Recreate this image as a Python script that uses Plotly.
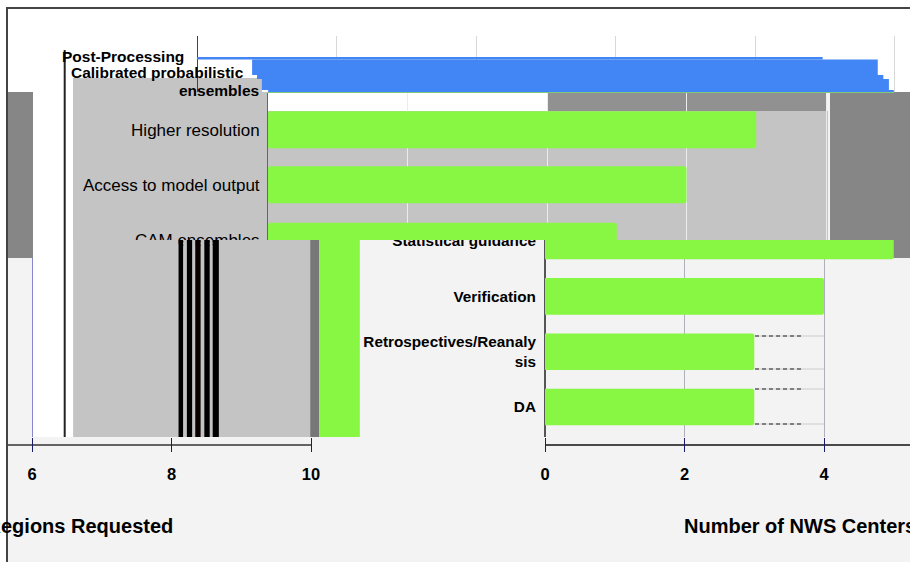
import plotly.graph_objects as go

# ---------- data ----------
lower_rows = ["DA", "Retrospectives/Reanaly<br>sis", "Verification", "Statistical guidance"]
lower_counts = [3, 3, 4, 5]
upper_rows = ["CAM ensembles", "Access to model output", "Higher resolution"]
upper_counts = [1, 2, 3]
top_starts = [1.02, 0.93, 0.86, 0.79, 0.0]
top_ends = [9.99, 9.92, 9.84, 9.76, 8.97]
left_starts = [6.59, 8.10, 8.17, 8.22, 8.30, 8.34, 8.42, 8.47, 8.55, 8.59, 8.68, 9.99, 10.115]
left_ends = [8.10, 8.17, 8.22, 8.30, 8.34, 8.42, 8.47, 8.55, 8.59, 8.68, 10.0, 10.115, 10.70]
left_colors = ["#c4c4c4", "#000000", "#c4c4c4", "#000000", "#c4c4c4", "#0a0000", "#c4c4c4",
               "#000000", "#c4c4c4", "#000000", "#c4c4c4", "#777777", "#87f743"]

W, H = 910, 562
GREEN, BLUE = "#87f743", "#4285f4"
FONT = "Liberation Sans"
fx = lambda x: x / W
fy = lambda y: 1 - y / H

fig = go.Figure()

# lower-right panel
fig.add_bar(y=lower_rows, x=lower_counts, orientation="h", width=0.66,
            marker=dict(color=GREEN, line_width=0, cornerradius=2), xaxis="x2", yaxis="y2")
# upper panel: bars run from the axis start
fig.add_bar(y=upper_rows, x=[v + 4 for v in upper_counts], base=-4, orientation="h", width=[0.618, 0.673, 0.673],
            marker=dict(color=GREEN, line_width=0, cornerradius=2), xaxis="x3", yaxis="y3")
# lower-left panel
fig.add_bar(y=["band"] * len(left_starts), x=[e - s for s, e in zip(left_starts, left_ends)],
            base=left_starts, orientation="h", width=1,
            marker=dict(color=left_colors, line_width=0), xaxis="x4", yaxis="y4")
# top panel
fig.add_bar(y=[1, 7.5, 15, 24.75, 33.75], x=[e - s for s, e in zip(top_starts, top_ends)],
            base=top_starts, orientation="h", width=[2, 11, 4, 15.5, 2.5],
            marker=dict(color=BLUE, line_width=0), xaxis="x", yaxis="y")

U = 69.75
fig.update_layout(
    template="none",
    width=W, height=H, autosize=False, showlegend=False, barmode="overlay",
    margin=dict(l=0, r=0, t=0, b=0, pad=0),
    paper_bgcolor="#f3f3f3", plot_bgcolor="rgba(0,0,0,0)",
    font=dict(family=FONT, color="#000000"),
    xaxis2=dict(domain=[fx(545), 1], anchor="y2", automargin=False, range=[0, (910 - 545) / U], tickmode="array", tickvals=[0, 2, 4],
                ticks="outside", ticklen=14, tickcolor="#1a1a6a", tickwidth=1, ticklabelstandoff=8,
                tickfont=dict(size=16.5, weight="bold"), showgrid=True, gridcolor="#b0b0b8",
                zeroline=True, zerolinecolor="#555555", zerolinewidth=1.5),
    yaxis2=dict(domain=[fy(437), fy(240)], anchor="x2", automargin=False, range=[-0.54, 3.018], type="category", ticks="outside",
                ticklen=5, tickcolor="rgba(0,0,0,0)", showgrid=False, zeroline=False,
                tickfont=dict(size=15.3, weight="bold")),
    xaxis3=dict(domain=[fx(268), 1], anchor="y3", automargin=False, range=[-4, -4 + (910 - 268) / U], dtick=2, tick0=0, showticklabels=False,
                ticks="", showgrid=True, gridcolor="#ececf0", zeroline=True, zerolinecolor="#ececf0",
                zerolinewidth=1),
    yaxis3=dict(domain=[fy(240), fy(93)], anchor="x3", automargin=False, range=[-0.005, 2.668], type="category", ticks="outside",
                ticklen=4, tickcolor="rgba(0,0,0,0)", showgrid=False, zeroline=False,
                showline=True, linecolor="#666666", linewidth=1, tickfont=dict(size=17)),
    xaxis4=dict(domain=[fx(8), fx(360)], anchor="y4", automargin=False, range=[6 - 24 / U, 10 + 49 / U], tickmode="array", tickvals=[6, 8, 10],
                ticks="outside", ticklen=14, tickcolor="#1a1a6a", tickwidth=1, ticklabelstandoff=8,
                tickfont=dict(size=16.5, weight="bold"), showgrid=False, zeroline=False),
    yaxis4=dict(domain=[fy(437), fy(240)], anchor="x4", automargin=False, type="category", visible=False),
    xaxis=dict(domain=[fx(197), 1], anchor="y", automargin=False, range=[0, (910 - 197) / U], dtick=2, tick0=0, showticklabels=False,
               ticks="", showgrid=True, gridcolor="#d8d8d8", zeroline=True, zerolinecolor="#444444",
               zerolinewidth=1),
    yaxis=dict(domain=[fy(92), fy(36)], anchor="x", automargin=False, range=[0, 56], visible=False),
)


def rect(x0, y0, x1, y1, color, layer="below"):
    fig.add_shape(type="rect", xref="paper", yref="paper", x0=fx(x0), x1=fx(x1), y0=fy(y0), y1=fy(y1),
                  fillcolor=color, line_width=0, layer=layer)


def line(x0, y0, x1, y1, color, width=1, dash="solid", layer="below"):
    fig.add_shape(type="line", xref="paper", yref="paper", x0=fx(x0), x1=fx(x1), y0=fy(y0), y1=fy(y1),
                  line=dict(color=color, width=width, dash=dash), layer=layer)


rect(0, 0, W, 92, "#ffffff")
rect(0, 0, 7, H, "#ffffff")
rect(33, 92, 73, 437, "#ffffff")
rect(8, 92, 33, 258, "#868686")
rect(830, 92, 910, 258, "#868686")
rect(73, 78, 262, 92, "#c4c4c4")
rect(73, 92, 268, 240, "#c4c4c4")
rect(268, 111, 828, 240, "#c4c4c4")
rect(268, 93, 547, 111, "#ffffff")
rect(547, 93, 827, 111, "#919191")
line(64.7, 50, 64.7, 437, "#222222", 2)
line(32.5, 258, 32.5, 437, "#8888cc", 1)
line(268, 92.5, 894, 92.5, "#7fc97f", 1)
line(8, 445, 311, 445, "#333333", 1.5)
line(545, 445, 910, 445, "#111111", 1.5)
for yy in (336, 369, 389, 424):
    line(755, yy, 824, yy, "#cccccc", 1)
    line(755, yy, 802, yy, "#222222", 1.2, "4px,3px")
line(7, 7, 7, H, "#444444", 2, layer="above")
line(6, 8, W, 8, "#444444", 2, layer="above")

for text, x_right, y_mid in [("Post-Processing", 186, 57), ("Calibrated probabilistic", 246, 73), ("ensembles", 261, 90)]:
    fig.add_annotation(text=text, xref="paper", yref="paper", x=fx(x_right), y=fy(y_mid), xanchor="right",
                       yanchor="middle", showarrow=False, font=dict(size=15.5, weight="bold"))
fig.add_annotation(text="Number of Regions Requested", xref="paper", yref="paper", x=fx(175), y=fy(526),
                   xanchor="right", yanchor="middle", showarrow=False, font=dict(size=20, weight="bold"))
fig.add_annotation(text="Number of NWS Centers", xref="paper", yref="paper", x=fx(682), y=fy(526),
                   xanchor="left", yanchor="middle", showarrow=False, font=dict(size=20, weight="bold"))

fig.write_html("out.html", config={"displayModeBar": False}, post_script="document.body.style.margin='0';")
